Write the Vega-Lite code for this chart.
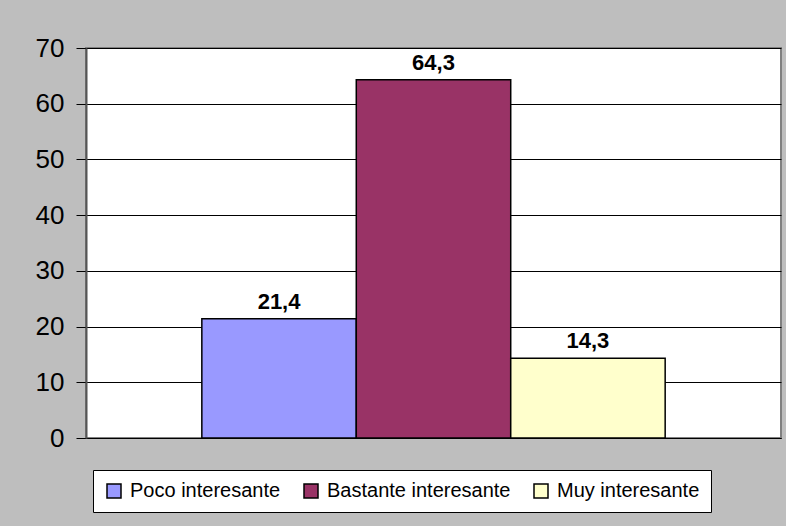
{
  "$schema": "https://vega.github.io/schema/vega-lite/v6.json",
  "width": 695,
  "height": 390,
  "autosize": "none",
  "padding": {"left": 86, "top": 48, "right": 5, "bottom": 88},
  "background": "#bebebe",
  "config": {
    "view": {"fill": "white", "stroke": "#808080", "strokeWidth": 2},
    "locale": {"number": {"decimal": ",", "thousands": ".", "grouping": [3], "currency": ["", " €"]}},
    "font": "Liberation Sans"
  },
  "data": {
    "values": [
      {"serie": "Poco interesante", "valor": 21.4},
      {"serie": "Bastante interesante", "valor": 64.3},
      {"serie": "Muy interesante", "valor": 14.3}
    ]
  },
  "encoding": {
    "x": {
      "field": "serie",
      "type": "nominal",
      "sort": null,
      "scale": {"paddingInner": 0, "paddingOuter": 0.75},
      "axis": {"labels": false, "ticks": false, "title": null, "domainColor": "black", "domainWidth": 1}
    },
    "y": {
      "field": "valor",
      "type": "quantitative",
      "scale": {"domain": [0, 70]},
      "axis": {
        "title": null,
        "values": [0, 10, 20, 30, 40, 50, 60, 70],
        "labelFontSize": 26,
        "labelColor": "black",
        "labelPadding": 12,
        "tickSize": 10,
        "tickColor": "black",
        "domainColor": "#555555",
        "domainWidth": 2,
        "gridColor": "black",
        "gridWidth": 1,
        "gridOpacity": 1
      }
    }
  },
  "layer": [
    {
      "mark": {"type": "bar", "stroke": "black", "strokeWidth": 1.5},
      "encoding": {
        "color": {
          "field": "serie",
          "type": "nominal",
          "sort": null,
          "scale": {
            "domain": ["Poco interesante", "Bastante interesante", "Muy interesante"],
            "range": ["#9999ff", "#993366", "#ffffcc"]
          },
          "legend": {
            "title": null,
            "orient": "none",
            "legendX": 7,
            "legendY": 422,
            "direction": "horizontal",
            "columns": 3,
            "fillColor": "white",
            "strokeColor": "black",
            "padding": 11,
            "labelFontSize": 20,
            "labelLimit": 400,
            "labelColor": "black",
            "labelOffset": 6,
            "columnPadding": 20,
            "symbolType": "square",
            "symbolSize": 196,
            "symbolStrokeColor": "black",
            "symbolStrokeWidth": 1.5,
            "symbolOpacity": 1
          }
        }
      }
    },
    {
      "mark": {"type": "text", "baseline": "bottom", "dy": -5, "fontWeight": "bold", "fontSize": 22, "color": "black"},
      "encoding": {
        "text": {"field": "valor", "type": "quantitative", "format": ".1f"}
      }
    }
  ]
}
